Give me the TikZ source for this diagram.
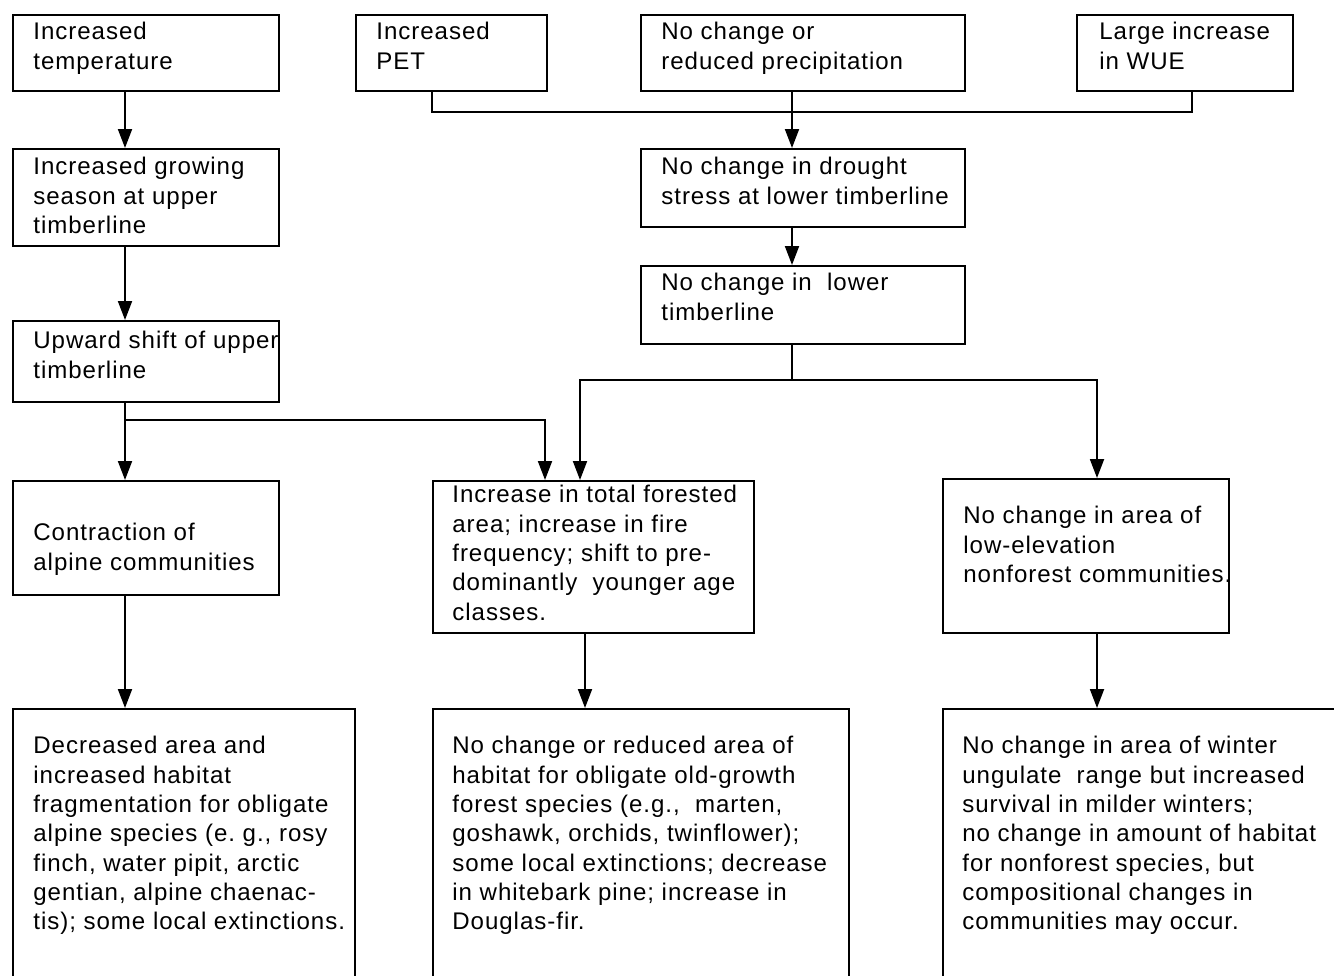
\documentclass[tikz,border=0pt]{standalone}
\usepackage{fontspec}
\setmainfont{Liberation Sans}[LetterSpace=4]
\usetikzlibrary{arrows.meta, positioning}
\tikzset{
  box/.style   = {rectangle, draw=black, line width=1.1pt, anchor=north west,
                  inner sep=0pt},
  txt/.style   = {anchor=north west, align=left, inner sep=0pt,
                  font=\fontsize{13.7}{16.7}\selectfont},
  arrow/.style = {-{Triangle[length=0.38cm, width=0.28cm]}, line width=1.1pt},
  link/.style  = {line width=1.1pt},
}

\begin{document}
\begin{tikzpicture}[x=0.02cm, y=-0.02cm]
    \useasboundingbox (0,0) rectangle (1334,976);
    \clip (0,0) rectangle (1334,976);

    % ── Top row: drivers ──────────────────────────────────────────
    \node[box, minimum width=5.32cm, minimum height=1.52cm] (temp)   at (12,14)   {};
    \node[box, minimum width=3.82cm, minimum height=1.52cm] (pet)    at (355,14)  {};
    \node[box, minimum width=6.48cm, minimum height=1.52cm] (precip) at (640,14)  {};
    \node[box, minimum width=4.32cm, minimum height=1.52cm] (wue)    at (1076,14) {};
    \node[txt] (temp-t)   at ([shift={(21,8)}]temp.north west)   {Increased\\temperature};
    \node[txt] (pet-t)    at ([shift={(21,8)}]pet.north west)    {Increased\\PET};
    \node[txt] (precip-t) at ([shift={(21,8)}]precip.north west) {No change or\\reduced precipitation};
    \node[txt] (wue-t)    at ([shift={(23,8)}]wue.north west)    {Large increase\\in WUE};

    % ── Left column: upper timberline ─────────────────────────────
    \node[box, minimum width=5.32cm, minimum height=1.94cm] (season)  at (12,148) {};
    \node[box, minimum width=5.32cm, minimum height=1.62cm] (upshift) at (12,320) {};
    \node[box, minimum width=5.32cm, minimum height=2.28cm] (alpine)  at (12,480) {};
    \node[txt] (season-t)  at ([shift={(21,9)}]season.north west)
      {Increased growing\\season at upper\\timberline};
    \node[txt] (upshift-t) at ([shift={(21,11)}]upshift.north west)
      {Upward shift of upper\\timberline};
    \node[txt] (alpine-t)  at ([shift={(21,43)}]alpine.north west)
      {Contraction of\\alpine communities};

    % ── Right column: lower timberline ────────────────────────────
    \node[box, minimum width=6.48cm, minimum height=1.56cm] (drought) at (640,148) {};
    \node[box, minimum width=6.48cm, minimum height=1.56cm] (lower)   at (640,265) {};
    \node[txt] (drought-t) at ([shift={(21,9)}]drought.north west)
      {No change in drought\\stress at lower timberline};
    \node[txt] (lower-t)   at ([shift={(21,8)}]lower.north west)
      {No change in\ \ lower\\timberline};

    % ── Middle row: vegetation ────────────────────────────────────
    \node[box, minimum width=6.42cm, minimum height=3.04cm] (forested)  at (432,480) {};
    \node[box, minimum width=5.72cm, minimum height=3.08cm] (nonforest) at (942,478) {};
    \node[txt] (forested-t)  at ([shift={(20,5)}]forested.north west)
      {Increase in total forested\\area; increase in fire\\frequency; shift to pre-\\dominantly\ \ younger age\\classes.};
    \node[txt] (nonforest-t) at ([shift={(21,28)}]nonforest.north west)
      {No change in area of\\low-elevation\\nonforest communities.};

    % ── Bottom row: habitat effects ───────────────────────────────
    \node[box, minimum width=6.84cm, minimum height=5.84cm] (alpinefx)    at (12,708)  {};
    \node[box, minimum width=8.32cm, minimum height=5.84cm] (forestfx)    at (432,708) {};
    \node[box, minimum width=8.40cm, minimum height=5.84cm] (nonforestfx) at (942,708) {};
    \node[txt] (alpinefx-t) at ([shift={(21,28)}]alpinefx.north west)
      {Decreased area and\\increased habitat\\fragmentation for obligate\\alpine species (e.\ g., rosy\\finch, water pipit, arctic\\gentian, alpine chaenac-\\tis); some local extinctions.};
    \node[txt] (forestfx-t) at ([shift={(20,28)}]forestfx.north west)
      {No change or reduced area of\\habitat for obligate old-growth\\forest species (e.g.,\ \ marten,\\goshawk, orchids, twinflower);\\some local extinctions; decrease\\in whitebark pine; increase in\\Douglas-fir.};
    \node[txt] (nonforestfx-t) at ([shift={(20,28)}]nonforestfx.north west)
      {No change in area of winter\\ungulate\ \ range but increased\\survival in milder winters;\\no change in amount of habitat\\for nonforest species, but\\compositional changes in\\communities may occur.};

    % ── Connector columns and rows ────────────────────────────────
    \coordinate (lcol)  at (125,0);
    \coordinate (pcol)  at (432,0);
    \coordinate (bcol)  at (545,0);
    \coordinate (fcol)  at (580,0);
    \coordinate (fbcol) at (585,0);
    \coordinate (mcol)  at (792,0);
    \coordinate (rcol)  at (1097,0);
    \coordinate (wcol)  at (1192,0);
    \coordinate (bus)    at (0,112);
    \coordinate (fork)   at (0,380);
    \coordinate (branch) at (0,420);

    % ── Arrows ────────────────────────────────────────────────────
    \draw[arrow] (temp.south -| lcol)    -- (season.north -| lcol);
    \draw[arrow] (season.south -| lcol)  -- (upshift.north -| lcol);
    \draw[arrow] (upshift.south -| lcol) -- (alpine.north -| lcol);
    \draw[arrow] (alpine.south -| lcol)  -- (alpinefx.north -| lcol);
    \draw[arrow] (branch -| lcol) -| (forested.north -| bcol);

    \draw[link]  (pet.south -| pcol) |- (bus -| wcol) -- (wue.south -| wcol);
    \draw[arrow] (precip.south -| mcol)  -- (drought.north -| mcol);
    \draw[arrow] (drought.south -| mcol) -- (lower.north -| mcol);
    \draw[link]  (lower.south -| mcol)   -- (fork -| mcol);
    \draw[arrow] (fork -| mcol) -| (forested.north -| fcol);
    \draw[arrow] (fork -| mcol) -| (nonforest.north -| rcol);

    \draw[arrow] (forested.south -| fbcol) -- (forestfx.north -| fbcol);
    \draw[arrow] (nonforest.south -| rcol) -- (nonforestfx.north -| rcol);

  \end{tikzpicture}
\end{document}
